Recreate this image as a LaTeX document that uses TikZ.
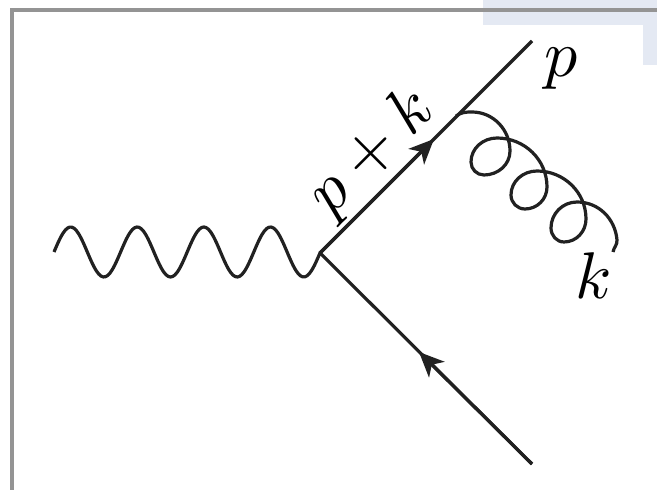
\documentclass[tikz,border=0pt]{standalone}
\usetikzlibrary{arrows.meta}
\definecolor{patch}{HTML}{E4E9F3}
\tikzset{
  x=1pt,y=1pt,
  line/.style={line width=3.2pt,draw=black!87,line cap=butt},
  tip/.style={-{Stealth[length=25pt,width=22pt,inset=7pt]}},
  lab/.style={inner sep=0pt,text=black},
  big/.style={scale=6.6},
  frame/.style={line width=3.2pt,draw=black!42},
}
\begin{document}
\begin{tikzpicture}
\useasboundingbox (0,0) rectangle (657,490);
\fill[white] (0,0) rectangle (657,490);
% pale patch behind the corner
\fill[patch] (483,490) rectangle (657,465);
\fill[patch] (643,465) rectangle (657,425);
% frame
\draw[frame] (12,0) -- (12,480) -- (657,480);
% named points
\coordinate (v) at (320,237);
\coordinate (top) at (532,449);
\coordinate (bot) at (532,26);
\coordinate (tipa) at (434,351);
\coordinate (tipb) at (419,138);
\coordinate (wstart) at (54,238);
% fermion lines
\draw[line] (v) -- (top);
\draw[line] (bot) -- (v);
\draw[line,tip] (v) -- (tipa);
\draw[line,tip] (bot) -- (tipb);
% photon
\draw[line,line join=round,shift={(wstart)}] plot[domain=0:266.4,samples=120,smooth] (\x,{25*sin(\x/66.6*360)});
% gluon
\draw[line]
 (456,374) to[out=35,in=180] (472,378)
 to[out=0,in=90] (510,339)
 to[out=-90,in=0] (484,315)
 to[out=180,in=-90] (471,328)
 to[out=90,in=180] (497,352)
 to[out=0,in=90] (547,303)
 to[out=-90,in=0] (525,281)
 to[out=180,in=-90] (511,295)
 to[out=90,in=180] (537,319)
 to[out=0,in=90] (586,271)
 to[out=-90,in=0] (564,248)
 to[out=180,in=-90] (551,262)
 to[out=90,in=180] (577,288)
 to[out=0,in=95] (617,250)
 to[out=-85,in=80] (613,238);
% labels
\node[lab,big] (lp) at (561,421) {$p$};
\node[lab,big] (lk) at (594,214) {$k$};
\node[lab,big,rotate=45] (lpk) at (372,337) {$p+k$};
\end{tikzpicture}
\end{document}
